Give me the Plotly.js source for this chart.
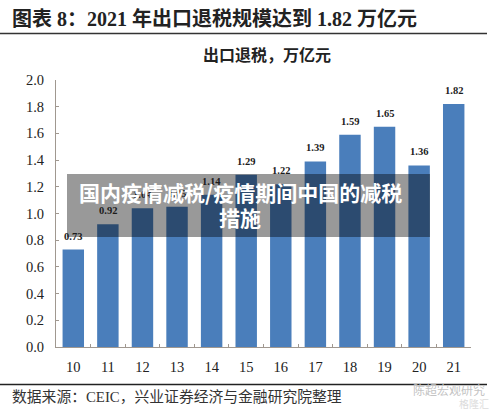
<!DOCTYPE html>
<html><head><meta charset="utf-8">
<script src="https://cdn.plot.ly/plotly-3.0.1.min.js"></script>
<style>html,body{margin:0;padding:0;background:#fff}#c{width:500px;height:412px}</style></head>
<body><div id="c"></div>
<script>
const years = ["10","11","12","13","14","15","16","17","18","19","20","21"];
const refund = [0.73,0.92,1.04,1.05,1.14,1.29,1.22,1.39,1.59,1.65,1.36,1.82];
const yTicks = [0,0.2,0.4,0.6,0.8,1.0,1.2,1.4,1.6,1.8,2.0];
const yTickText = ["0.0","0.2","0.4","0.6","0.8","1.0","1.2","1.4","1.6","1.8","2.0"];
const headerText = "图表 8：2021 年出口退税规模达到 1.82 万亿元";
const chartTitle = "出口退税，万亿元";
const sourceText = "数据来源：CEIC，兴业证券经济与金融研究院整理";
const wmText = "陈超宏观研究";
const wmText2 = "格隆汇";
const overlayLine1 = "国内疫情减税/疫情期间中国的减税";
const overlayLine2 = "措施";

const F = "'Liberation Serif','Noto Sans CJK SC',serif";
const S = "'Noto Sans CJK SC',sans-serif";
const paper = (x,y,text,font,anchor) => ({
  xref:'paper',yref:'paper',x:(x-56)/415,y:(347-y)/267,text:text,showarrow:false,
  xanchor:anchor||'left',yanchor:'middle',font:font});
const barLabels = years.map((c,i)=>({x:i,y:refund[i],xref:'x',yref:'y',text:refund[i].toFixed(2),
  showarrow:false,yanchor:'bottom',yshift:6,font:{family:F,size:10.5,color:'#1c1c1c',weight:700}}));
const hline = (x0,x1,y,w,col)=>({type:'line',xref:'paper',yref:'paper',x0:(x0-56)/415,x1:(x1-56)/415,
  y0:(347-y)/267,y1:(347-y)/267,line:{color:col,width:w},layer:'above'});

Plotly.newPlot('c',[{type:'bar',x:years,y:refund,width:0.62,marker:{color:'#4a7ebb',line:{width:0}},hoverinfo:'skip'}],{
  width:500,height:412,margin:{l:56,r:29,t:80,b:65},paper_bgcolor:'#fff',plot_bgcolor:'#fff',showlegend:false,
  xaxis:{type:'category',range:[-0.5,11.5],tickson:'boundaries',ticks:'inside',ticklen:3,tickcolor:'#a09890',
    showline:true,linecolor:'#a09890',linewidth:1,showgrid:false,zeroline:false,
    tickfont:{family:F,size:14.5,color:'#222'},ticklabelstandoff:7},
  yaxis:{range:[0,2],tickvals:yTicks,ticktext:yTickText,ticks:'inside',ticklen:3,tickcolor:'#a09890',
    showline:true,linecolor:'#a09890',linewidth:1,showgrid:false,zeroline:false,
    tickfont:{family:F,size:14.5,color:'#222'},ticklabelstandoff:8},
  shapes:[hline(0,487,33.5,1.5,'#333'),hline(0,487,384.5,1.5,'#222'),
    {type:'rect',xref:'paper',yref:'paper',x0:(67-56)/415,x1:(430-56)/415,y0:(347-237)/267,y1:(347-174)/267,
     fillcolor:'rgba(0,0,0,0.4)',line:{width:0},layer:'above'}],
  annotations:barLabels.concat([
    paper(10,19,headerText,{family:F,size:20,color:'#222',weight:700}),
    paper(267,55,chartTitle,{family:F,size:16,color:'#222',weight:700},'center'),
    paper(10,396,sourceText,{family:F,size:14.8,color:'#333'}),
    paper(449,389,wmText,{family:S,size:12,color:'#c4c4c4'},'center'),
    paper(474,403,wmText2,{family:S,size:10,color:'#dcdcdc'},'center'),
    paper(240,192,overlayLine1,{family:S,size:21,color:'#fff',weight:700},'center'),
    paper(240,217,overlayLine2,{family:S,size:21,color:'#fff',weight:700},'center')
  ])
},{displayModeBar:false,staticPlot:true});
</script></body></html>
